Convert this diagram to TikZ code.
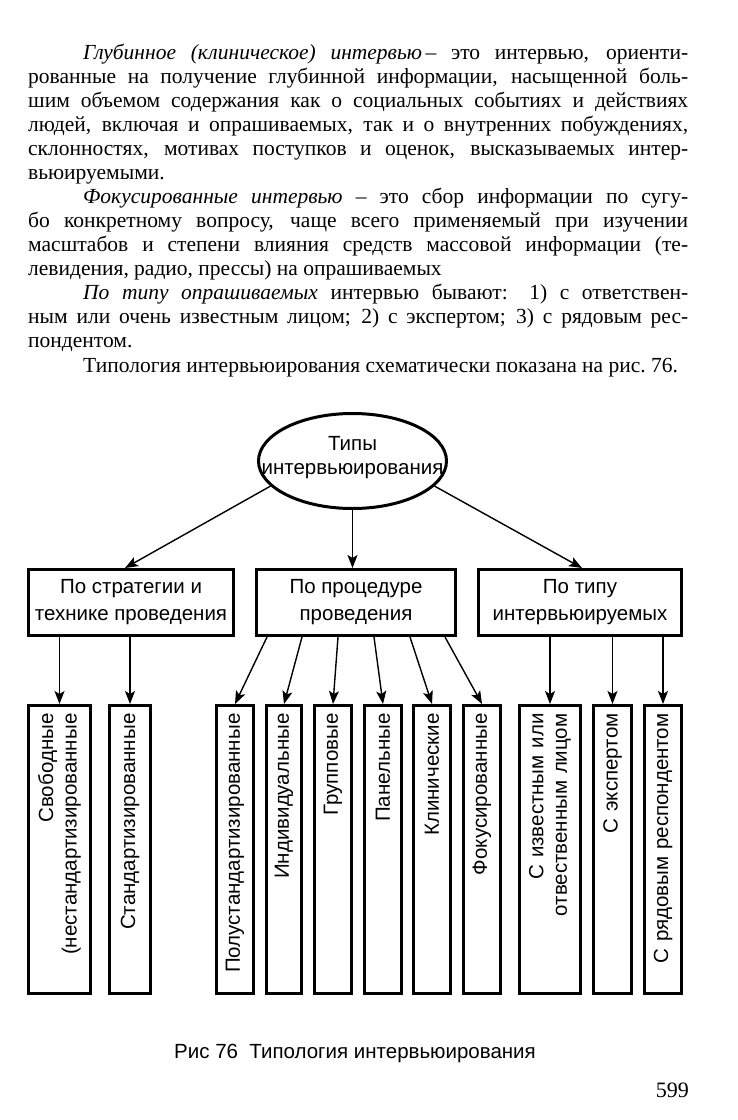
\documentclass[tikz,border=0pt]{standalone}
\usepackage{fontspec}
\setmainfont{Liberation Serif}
\newfontfamily\sansfont{Liberation Sans}
\usetikzlibrary{arrows.meta,shapes.geometric}

\tikzset{
    box/.style={draw, line width=3pt, minimum height=66pt, align=center,
        font=\sansfont\fontsize{20.5}{27}\selectfont},
    leaf/.style={draw, line width=3pt, rotate=90, minimum width=288pt,
        minimum height=#1, inner xsep=8pt, text width=272pt, align=right,
        font=\sansfont\fontsize{20.5}{23.5}\selectfont},
    arr/.style={-{Stealth[length=13pt, width=10pt, inset=3pt]}, line width=1.4pt},
}

\begin{document}
\begin{tikzpicture}[x=1pt, y=-1pt]
    \fill[white] (0,0) rectangle (738,1120);
    \useasboundingbox (0,0) rectangle (738,1120);

    \node[anchor=base west, inner sep=0] (body) at (28,59) {\parbox[t]{660pt}{%
        \fontsize{21.5}{24.08}\selectfont
        \setlength{\parindent}{55pt}\hyphenpenalty=10000
        \textit{Глубинное (клиническое) интервью}\,– это интервью, ориенти-\linebreak
        рованные на получение глубинной информации, насыщенной боль-\linebreak
        шим объемом содержания как о социальных событиях и действиях\linebreak
        людей, включая и опрашиваемых, так и о внутренних побуждениях,\linebreak
        склонностях, мотивах поступков и оценок, высказываемых интер-\linebreak
        вьюируемыми.\par
        \textit{Фокусированные интервью} – это сбор информации по сугу-\linebreak
        бо конкретному вопросу, чаще всего применяемый при изучении\linebreak
        масштабов и степени влияния средств массовой информации (те-\linebreak
        левидения, радио, прессы) на опрашиваемых\par
        \textit{По типу опрашиваемых} интервью бывают: 1) с ответствен-\linebreak
        ным или очень известным лицом; 2) с экспертом; 3) с рядовым рес-\linebreak
        пондентом.\par
        Типология интервьюирования схематически показана на рис.~76.\par}};

    \node[draw, ellipse, line width=3pt, minimum width=188pt, minimum height=95pt] (types) at (352.5,461) {};
    \node[align=center, inner sep=0, font=\sansfont\fontsize{20.5}{24}\selectfont] (typestext) at (352.5,458) {Типы\\интервьюирования};

    \node[box, minimum width=205pt] (strat) at (131,602.5) {По стратегии и\\технике проведения};
    \node[box, minimum width=199pt] (proc) at (356,602.5) {По процедуре\\проведения};
    \node[box, minimum width=203pt] (resp) at (580,602.5) {По типу\\интервьюируемых};

    \node[leaf=62pt] (free) at (59.5,849.5) {Свободные\\(нестандартизированные};
    \node[leaf=41pt] (std) at (130,849.5) {Стандартизированные};
    \node[leaf=37pt] (semi) at (235,849.5) {Полустандартизированные};
    \node[leaf=35pt] (ind) at (284,849.5) {Индивидуальные};
    \node[leaf=37pt] (grp) at (333,849.5) {Групповые};
    \node[leaf=37pt] (pan) at (383,849.5) {Панельные};
    \node[leaf=37pt] (clin) at (432,849.5) {Клинические};
    \node[leaf=37pt] (foc) at (482,849.5) {Фокусированные};
    \node[leaf=61pt] (famous) at (550,849.5) {С известным или\\отвественным лицом};
    \node[leaf=38pt] (expert) at (612.5,849.5) {С экспертом};
    \node[leaf=37pt] (plain) at (663,849.5) {С рядовым респондентом};

    \draw[arr] (types.197) -- ([xshift=-6pt]strat.north);
    \draw[arr] (types.south) -- (types.south |- proc.north);
    \draw[arr] (types.-17) -- ([xshift=2pt]resp.north);

    \foreach \n in {free, std}
        \draw[arr] (\n.east |- strat.south) -- (\n.east);
    \foreach \n/\dx in {semi/-89, ind/-54, grp/-18, pan/18, clin/54, foc/89}
        \draw[arr] ([xshift=\dx pt]proc.south) -- (\n.east);
    \foreach \n in {famous, expert, plain}
        \draw[arr] (\n.east |- resp.south) -- (\n.east);

    \node[anchor=base west, inner sep=0, font=\sansfont\fontsize{20.5}{24}\selectfont] (caption) at (174,1058) {Рис 76\ \ Типология интервьюирования};
    \node[anchor=base east, inner sep=0, font=\fontsize{22}{24}\selectfont] (pagenum) at (689,1097) {599};
\end{tikzpicture}
\end{document}
